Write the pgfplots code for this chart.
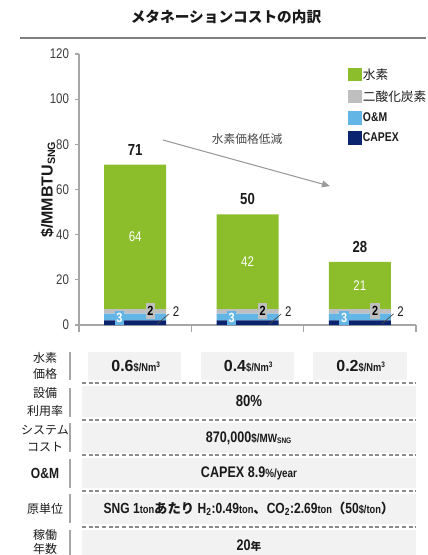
\documentclass[border=0pt]{standalone}
\usepackage{pgfplots}
\pgfplotsset{compat=1.18}
\usetikzlibrary{arrows.meta}
\usepackage{fontspec}
\setmainfont{Liberation Sans}[FakeStretch=0.82]
\newfontfamily\wide{Liberation Sans}
\newfontfamily\jp{Noto Sans CJK JP}
\definecolor{cH}{HTML}{8CBD2A}
\definecolor{cC}{HTML}{BFBFBF}
\definecolor{cO}{HTML}{62B5E5}
\definecolor{cX}{HTML}{0B2470}
\definecolor{txt}{HTML}{1A1A1A}
\definecolor{axg}{HTML}{A6A6A6}
\definecolor{boxg}{HTML}{F2F2F2}
\definecolor{dashg}{HTML}{8C8C8C}
\definecolor{lineg}{HTML}{808080}
\pgfplotsset{sq/.style={legend image code/.code={\fill[##1] (0pt,-5pt) rectangle (10pt,5pt);}}}
\newcommand{\fs}[1]{\fontsize{#1}{#1}\selectfont}
\begin{document}
\begin{tikzpicture}
\begin{scope}[x=0.75pt,y=-0.75pt]
\path[use as bounding box] (0,0) rectangle (426,555);
% title
\node[text=txt] at (226,17) {\jp\bfseries\fs{11}メタネーションコストの内訳};
\draw[lineg, line width=1.3pt] (20,38) -- (426,38);
% table boxes
\fill[boxg] (88,352) rectangle (181,380);
\fill[boxg] (201,352) rectangle (294,380);
\fill[boxg] (313,352) rectangle (407,380);
\fill[boxg] (82,386) rectangle (416,417);
\fill[boxg] (82,423) rectangle (416,453);
\fill[boxg] (82,458) rectangle (416,488);
\fill[boxg] (82,494) rectangle (416,524);
\fill[boxg] (82,530) rectangle (416,560);
\foreach \yy in {383,420,455,491,527}{
  \draw[dashg, line width=0.9pt, dash pattern=on 3pt off 2pt] (82,\yy) -- (416,\yy);
}
\foreach \ya/\yb in {352/380,388/417,423/452,459/488,494/523,530/560}{
  \draw[axg, line width=1.2pt] (70,\ya) -- (70,\yb);
}
% left labels
\begin{scope}[every node/.style={text=txt, inner sep=0pt}]
\node at (45,358) {\jp\fs{9}水素};
\node at (45,374) {\jp\fs{9}価格};
\node at (45,393) {\jp\fs{9}設備};
\node at (45,411) {\jp\fs{9}利用率};
\node at (45,430) {\jp\fs{9}システム};
\node at (45,447) {\jp\fs{9}コスト};
\node at (45,473) {\bfseries\fs{11}O\&M};
\node at (45,509) {\jp\fs{9}原単位};
\node at (45,535) {\jp\fs{9}稼働};
\node at (45,549) {\jp\fs{9}年数};
% table texts
\node at (136,366) {\bfseries{\wide\fs{12}0.6}{\fs{8.5}\$/Nm\textsuperscript{3}}};
\node at (248.5,366) {\bfseries{\wide\fs{12}0.4}{\fs{8.5}\$/Nm\textsuperscript{3}}};
\node at (361,366) {\bfseries{\wide\fs{12}0.2}{\fs{8.5}\$/Nm\textsuperscript{3}}};
\node at (249,401) {\bfseries\fs{12}80\%};
\node at (249,438) {\bfseries\fs{11.5}870,000{\fs{9}\$/MW\textsubscript{SNG}}};
\node at (249,473) {\bfseries\fs{11.5}CAPEX 8.9{\fs{9}\%/year}};
\node at (249,509) {\bfseries\fs{11}SNG 1{\fs{8.5}ton}{\jp\fs{10}あたり} H\textsubscript{2}:0.49{\fs{8.5}ton}{\jp\fs{10}、}CO\textsubscript{2}:2.69{\fs{8.5}ton}{\jp\fs{10}（}50{\fs{8.5}\$/ton}{\jp\fs{10}）}};
\node at (249,546) {\bfseries\fs{11.5}20{\jp\fs{8}年}};
\end{scope}
\end{scope}
\begin{axis}[
  at={(59.25pt,-243.75pt)}, anchor=south west,
  scale only axis, width=252.75pt, height=203.25pt,
  ybar stacked, bar width=46.5pt,
  xmin=-0.5, xmax=2.5, ymin=0, ymax=120,
  xtick={-0.5,0.5,1.5,2.5}, xticklabels={},
  ytick={0,20,...,120},
  axis x line*=bottom, axis y line*=left,
  axis line style={draw=axg, line width=0.8pt, -},
  tick style={draw=axg, line width=0.8pt},
  tick align=outside,
  major tick length=3pt,
  xtick style={/pgfplots/major tick length=5.5pt},
  /pgf/number format/assume math mode=true,
  yticklabel style={font=\fs{10.5}, text=txt!85, xshift=-1pt},
  ylabel={\wide\bfseries\fs{12}\$/MMBTU\textsubscript{SNG}},
  ylabel style={at={(axis description cs:-0.092,0.5)}, anchor=center, text=txt},
  clip=false,
  legend style={at={(axis cs:1.895,114.3)}, anchor=north west, draw=none, fill=none,
     font=\fs{9.5}, row sep=5pt, inner sep=0pt, text=txt,
     nodes={inner sep=1pt, anchor=west}},
  legend cell align=left, reverse legend,
]
\addplot[fill=cX, draw=none, sq] coordinates {(0,2) (1,2) (2,2)};
\addplot[fill=cO, draw=none, sq] coordinates {(0,3) (1,3) (2,3)};
\addplot[fill=cC, draw=none, sq] coordinates {(0,2) (1,2) (2,2)};
\addplot[fill=cH, draw=none, sq] coordinates {(0,64) (1,42) (2,21)};
\legend{{\bfseries CAPEX},{\bfseries O\&M},{\jp 二酸化炭素},{\jp 水素}}
\coordinate (H0) at (axis cs:0,39);
\coordinate (H1) at (axis cs:1,28);
\coordinate (H2) at (axis cs:2,17.5);
\coordinate (T0) at (axis cs:0,77.5);
\coordinate (T1) at (axis cs:1,55.8);
\coordinate (T2) at (axis cs:2,34.5);
\coordinate (O0) at (axis cs:-0.14,3.1);
\coordinate (O1) at (axis cs:0.86,3.1);
\coordinate (O2) at (axis cs:1.86,3.1);
\coordinate (C0) at (axis cs:0.136,6.2);
\coordinate (C1) at (axis cs:1.136,6.2);
\coordinate (C2) at (axis cs:2.136,6.2);
\coordinate (La0) at (axis cs:0.194,0.4);
\coordinate (La1) at (axis cs:1.194,0.4);
\coordinate (La2) at (axis cs:2.194,0.4);
\coordinate (Lb0) at (axis cs:0.30,4.9);
\coordinate (Lb1) at (axis cs:1.30,4.9);
\coordinate (Lb2) at (axis cs:2.30,4.9);
\coordinate (X0) at (axis cs:0.363,5.8);
\coordinate (X1) at (axis cs:1.363,5.8);
\coordinate (X2) at (axis cs:2.363,5.8);
\coordinate (A0) at (axis cs:0.248,81.9);
\coordinate (A1) at (axis cs:1.734,61.5);
\coordinate (AT) at (axis cs:0.996,82.5);
\end{axis}
\node[text=white] at (H0) {\fs{10.5}64};
\node[text=white] at (H1) {\fs{10.5}42};
\node[text=white] at (H2) {\fs{10.5}21};
\node[text=txt] at (T0) {\bfseries\fs{12}71};
\node[text=txt] at (T1) {\bfseries\fs{12}50};
\node[text=txt] at (T2) {\bfseries\fs{12}28};
\foreach \i in {0,1,2}{
  \node[fill=cO, text=white, inner sep=1.2pt, minimum height=10.5pt] at (O\i) {\bfseries\fs{10}3};
  \node[fill=cC, text=black, inner sep=1.2pt, minimum height=12pt] at (C\i) {\bfseries\fs{10}2};
  \draw[txt!80, line width=0.5pt] (La\i) -- (Lb\i);
  \node[text=txt] at (X\i) {\fs{10.5}2};
}
\draw[lineg!80, line width=0.8pt, -{Triangle[length=6pt,width=5pt]}] (A0) -- (A1);
\node[text=txt!80] at (AT) {\jp\fs{8.8}水素価格低減};
\end{tikzpicture}
\end{document}
